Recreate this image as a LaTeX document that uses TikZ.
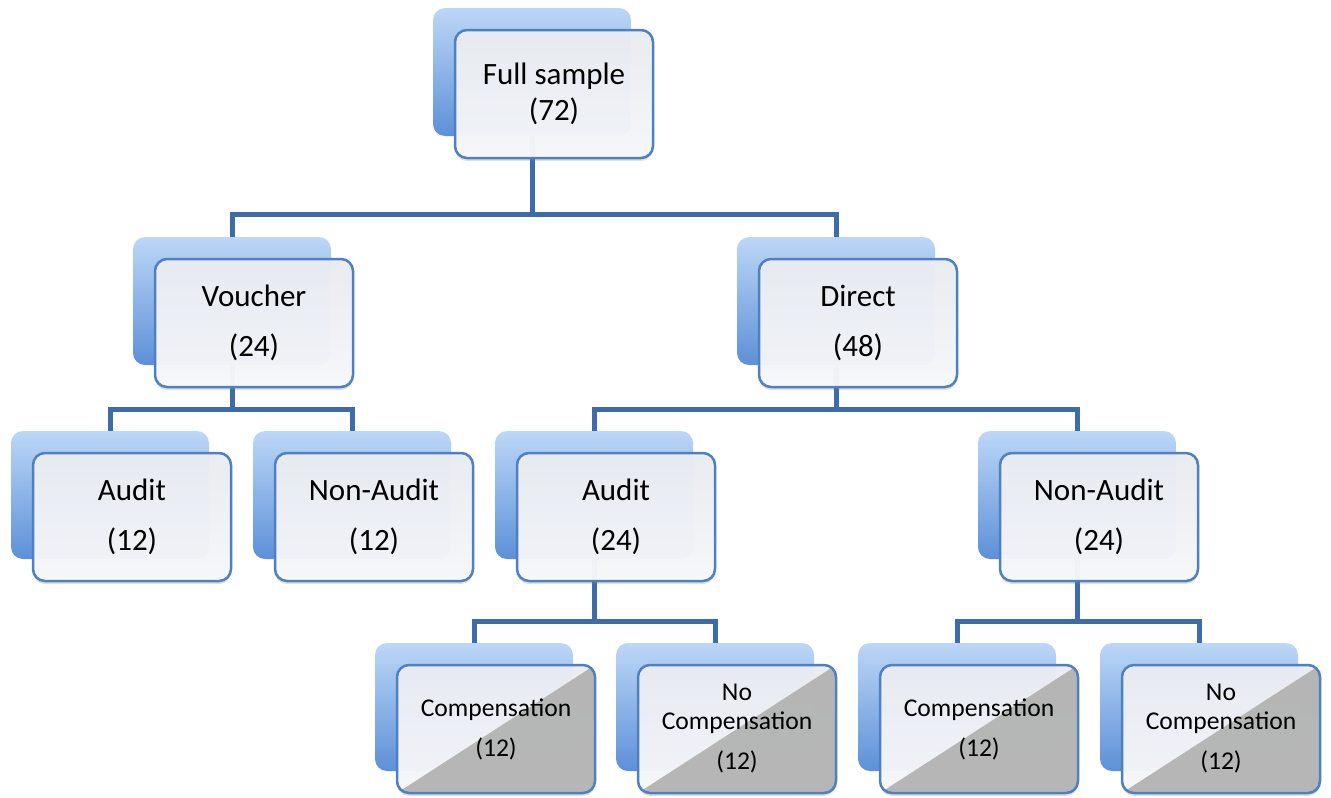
\documentclass[tikz,border=0pt]{standalone}
\usepackage{fontspec}
\setmainfont{Carlito}
\usetikzlibrary{backgrounds,shadows}

\definecolor{backtop}{HTML}{BCD7F7}
\definecolor{backbot}{HTML}{5D90D8}
\definecolor{cardline}{HTML}{4F80BF}
\definecolor{cardtop}{HTML}{EAEDF2}
\definecolor{cardbot}{HTML}{F8F9FB}
\definecolor{linkblue}{HTML}{3D6CAA}
\definecolor{diaggray}{HTML}{B0B0B0}

\tikzstyle{backcard}=[rounded corners=12pt,minimum width=198pt,minimum height=128pt,top color=backtop,bottom color=backbot]
\tikzstyle{frontcard}=[rounded corners=12pt,minimum width=198pt,minimum height=128pt,draw=cardline,line width=2.5pt,top color=cardtop,bottom color=cardbot,fill opacity=0.96,text opacity=1,drop shadow={opacity=0.25,shadow xshift=0pt,shadow yshift=-3pt},align=center,font=\fontsize{31}{50}\selectfont]
\tikzstyle{leafcard}=[frontcard,font=\fontsize{25.6}{40}\selectfont,path picture={\fill[diaggray,fill opacity=0.9,sharp corners] (path picture bounding box.south west) -- (path picture bounding box.north east) -- (path picture bounding box.south east) -- cycle;}]
\tikzstyle{link}=[draw=linkblue,line width=5pt]

\begin{document}
\begin{tikzpicture}[x=1pt,y=-1pt]
\useasboundingbox (0,0) rectangle (1331,798);
% Full sample
   \node[backcard] (fullB) at (532,72) {};
   \node[frontcard,font=\fontsize{31}{36}\selectfont] (full) at (554,94) {Full sample\\(72)};

% Voucher / Direct
   \node[backcard] (vouB) at (232,301) {};
   \node[frontcard] (vou) at (254,323) {Voucher\\(24)};
   \node[backcard] (dirB) at (836,301) {};
   \node[frontcard] (dir) at (858,323) {Direct\\(48)};

% Audit / Non-Audit
   \node[backcard] (vaudB) at (110,495) {};
   \node[frontcard] (vaud) at (132,517) {Audit\\(12)};
   \node[backcard] (vnonB) at (352,495) {};
   \node[frontcard] (vnon) at (374,517) {Non-Audit\\(12)};
   \node[backcard] (daudB) at (594,495) {};
   \node[frontcard] (daud) at (616,517) {Audit\\(24)};
   \node[backcard] (dnonB) at (1077,495) {};
   \node[frontcard] (dnon) at (1099,517) {Non-Audit\\(24)};

% Compensation / No Compensation
   \node[backcard] (comp1B) at (474,707) {};
   \node[leafcard] (comp1) at (496,729) {Compensation\\(12)};
   \node[backcard] (nocomp1B) at (715,707) {};
   \node[leafcard] (nocomp1) at (737,729) {No\\[-11pt]Compensation\\(12)};
   \node[backcard] (comp2B) at (957,707) {};
   \node[leafcard] (comp2) at (979,729) {Compensation\\(12)};
   \node[backcard] (nocomp2B) at (1199,707) {};
   \node[leafcard] (nocomp2) at (1221,729) {No\\[-11pt]Compensation\\(12)};

\begin{pgfonlayer}{background}
   \draw[link] (fullB.south) -- ++(0,79);
   \draw[link] (vouB.north) -- ++(0,-22) -| (dirB.north);
   \draw[link] (vouB.south) -- ++(0,45);
   \draw[link] (vaudB.north) -- ++(0,-21) -| (vnonB.north);
   \draw[link] (dirB.south) -- ++(0,45);
   \draw[link] (daudB.north) -- ++(0,-21) -| (dnonB.north);
   \draw[link] (daudB.south) -- ++(0,63);
   \draw[link] (comp1B.north) -- ++(0,-21) -| (nocomp1B.north);
   \draw[link] (dnonB.south) -- ++(0,63);
   \draw[link] (comp2B.north) -- ++(0,-21) -| (nocomp2B.north);
\end{pgfonlayer}
\end{tikzpicture}
\end{document}
